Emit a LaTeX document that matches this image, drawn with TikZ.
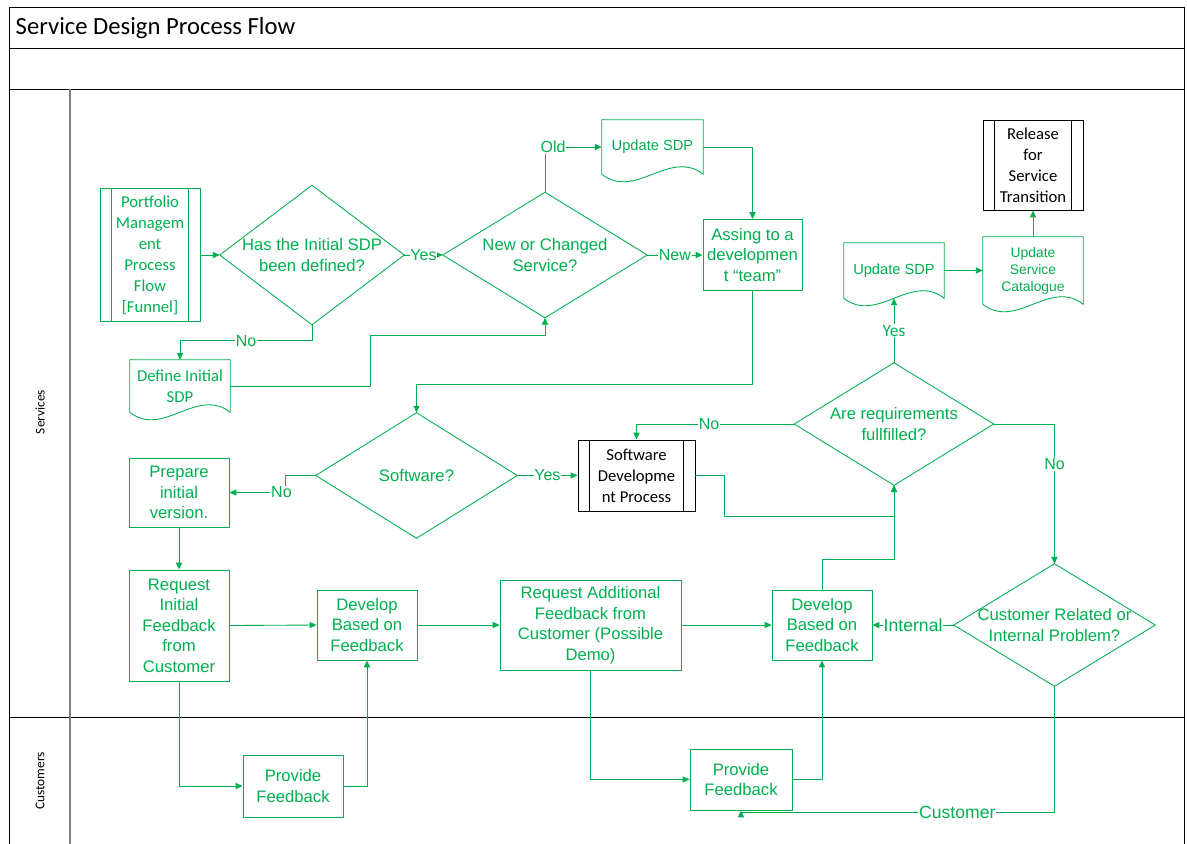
\documentclass[tikz,border=0pt]{standalone}
\usepackage{fontspec}
\setmainfont{Liberation Sans}
\newfontfamily\calfont{Carlito}
\newfontfamily\arialfont{Liberation Sans}
\usetikzlibrary{arrows.meta,calc}
\definecolor{flowgreen}{HTML}{00B050}
\definecolor{lanegray}{HTML}{808080}

\tikzset{
  sz/.style 2 args={minimum width=#1*0.75pt, minimum height=#2*0.75pt},
  gline/.style={draw=flowgreen, line width=0.65pt},
  arr/.style={gline, -{Triangle[length=5.2pt,width=4.6pt]}},
  frameline/.style={draw=black, line width=0.75pt},
  arialtext/.style={font=\arialfont\fontsize{12.5}{15.4}\selectfont},
  calibritext/.style={font=\calfont\fontsize{12.5}{15.75}\selectfont},
  box/.style={rectangle, draw=flowgreen, line width=0.65pt, text=flowgreen, align=center, inner sep=1pt, arialtext},
  decision/.style={rectangle, draw=none, text=flowgreen, align=center, inner sep=1pt, arialtext},
  docbox/.style={rectangle, draw=none, text=flowgreen, align=center, inner sep=1pt, arialtext},
  predefgreen/.style={rectangle, draw=flowgreen, line width=0.65pt, text=flowgreen, align=center, inner sep=1pt, calibritext},
  predefblack/.style={rectangle, draw=black, line width=0.7pt, text=black, align=center, inner sep=1pt, calibritext},
  lbl/.style={fill=white, text=flowgreen, inner sep=0.6pt, font=\arialfont\fontsize{12}{14}\selectfont},
  biglbl/.style={lbl, font=\arialfont\fontsize{13.2}{15}\selectfont},
  lanelabel/.style={rotate=90, text=black, font=\calfont\fontsize{10}{12}\selectfont},
}

% document symbol: flat top, wavy bottom edge
\newcommand\docoutline[1]{%
  \draw[gline] (#1.north west) -- (#1.north east) -- (#1.south east)
    .. controls ($(#1.south east)!0.333!(#1.south west)+(0,-26)$)
       and ($(#1.south east)!0.667!(#1.south west)+(0,26)$) .. (#1.south west) -- cycle;}
% decision symbol
\newcommand\diamondoutline[1]{\draw[gline] (#1.west) -- (#1.north) -- (#1.east) -- (#1.south) -- cycle;}
% predefined process: inner vertical bars
\newcommand\predefbars[2]{%
  \draw[draw=#2, line width=0.65pt] ($(#1.north west)+(12,0)$) -- ($(#1.south west)+(12,0)$);
  \draw[draw=#2, line width=0.65pt] ($(#1.north east)+(-12,0)$) -- ($(#1.south east)+(-12,0)$);}

\begin{document}
\begin{tikzpicture}[x=0.75pt, y=-0.75pt]
\useasboundingbox (0,0) rectangle (1187,843);
\fill[white] (0,0) rectangle (1187,843);

% pool frame and lanes
\draw[frameline] (9,7) -- (1184,7);
\draw[frameline] (9,7) -- (9,845);
\draw[frameline] (1184,7) -- (1184,845);
\draw[frameline] (9,48) -- (1184,48);
\draw[frameline] (9,89) -- (1184,89);
\draw[frameline] (9,717) -- (1184,717);
\draw[draw=lanegray, line width=1pt] (70,89) -- (70,845);

\node[anchor=west, text=black, font=\calfont\fontsize{18.5}{21}\selectfont] (title) at (11,28) {Service Design Process Flow};
\node[lanelabel] (lanesvc) at (40,412) {Services};
\node[lanelabel] (lanecust) at (40,781) {Customers};

% nodes
\node[predefgreen, sz={100}{133}] (portfolio) at (150,255) {Portfolio\\Managem\\ent\\Process\\Flow\\{[Funnel]}};
\node[decision, sz={184}{139}] (d1) at (312,255) {Has the Initial SDP\\been defined?};
\node[decision, sz={204}{125}] (d2) at (545,255) {New or Changed\\Service?};
\node[docbox, sz={101}{54}, font=\arialfont\fontsize{11}{13}\selectfont] (update1) at (652.5,147) {Update SDP};
\node[box, sz={99}{71}] (assign) at (752.5,255) {Assing to a\\developmen\\t “team”};
\node[docbox, sz={100}{52}, calibritext] (define) at (180,386) {Define Initial\\SDP};
\node[decision, sz={201}{125}] (d3) at (416.5,475.5) {Software?};
\node[predefblack, sz={117}{71}] (swdev) at (636.5,475.5) {Software\\Developme\\nt Process};
\node[decision, sz={199}{122}] (d4) at (894,424) {Are requirements\\fullfilled?};
\node[docbox, sz={100}{55}, font=\arialfont\fontsize{11}{13}\selectfont] (update2) at (894,270.5) {Update SDP};
\node[docbox, sz={100}{67}, font=\arialfont\fontsize{10.4}{12.75}\selectfont] (catalogue) at (1033,270.5) {Update\\Service\\Catalogue};
\node[predefblack, sz={100}{90}] (release) at (1033,165) {Release\\for\\Service\\Transition};
\node[box, sz={100}{69}] (prepare) at (179,492.5) {Prepare\\initial\\version.};
\node[box, sz={100}{111}] (reqinit) at (179,625.5) {Request\\Initial\\Feedback\\from\\Customer};
\node[box, sz={100}{70}] (dev1) at (367,625) {Develop\\Based on\\Feedback};
\node[box, sz={181}{90}] (reqadd) at (590.5,625) {Request Additional\\Feedback from\\Customer (Possible\\Demo)};
\node[box, sz={100}{70}] (dev2) at (822,625) {Develop\\Based on\\Feedback};
\node[decision, sz={201}{122}] (d5) at (1054.5,625) {Customer Related or\\Internal Problem?};
\node[box, sz={100}{62}] (prov1) at (293,786) {Provide\\Feedback};
\node[box, sz={102}{61}] (prov2) at (741,779.5) {Provide\\Feedback};

% symbol outlines
\predefbars{portfolio}{flowgreen}
\predefbars{swdev}{black}
\predefbars{release}{black}
\diamondoutline{d1}
\diamondoutline{d2}
\diamondoutline{d3}
\diamondoutline{d4}
\diamondoutline{d5}
\docoutline{update1}
\docoutline{define}
\docoutline{update2}
\docoutline{catalogue}

% waypoints
\coordinate (k1) at (370,335);
\coordinate (k2) at ($(prepare.east)+(56,0)$);
\coordinate (k3) at (724,516);

% connectors
\draw[arr] (portfolio.east) -- (d1.west);
\draw[arr] (d1.east) -- node[lbl] (lyes1) {Yes} (d2.west);
\draw[arr] (d1.south) -- ++(0,16) -| node[lbl, pos=0.25] (lno1) {No} (define.north);
\draw[arr] (define.east) -| (k1) -| (d2.south);
\draw[arr] (d2.north) |- node[lbl, pos=0.5, xshift=6pt] (lold) {Old} (update1.west);
\draw[arr] (d2.east) -- node[lbl] (lnew) {New} (assign.west);
\draw[arr] (update1.east) -| (assign.north);
\draw[arr] (assign.south) -- ++(0,93) -| (d3.north);
\draw[arr] (d3.west) -| (k2) node[lbl, xshift=-3pt] (lno2) {No} -- (prepare.east);
\draw[arr] (d3.east) -- node[lbl] (lyes2) {Yes} (swdev.west);
\draw[arr] (swdev.east) -| (k3) -| (d4.south);
\draw[arr] (d4.west) -| node[lbl, pos=0.27] (lno3) {No} (swdev.north);
\draw[arr] (d4.north) -- node[lbl, font=\calfont\fontsize{13}{15}\selectfont] (lyes3) {Yes} (update2.south);
\draw[arr] (update2.east) -- (catalogue.west);
\draw[arr] (catalogue.north) -- (release.south);
\draw[arr] (d4.east) -| node[lbl, pos=0.645] (lno4) {No} (d5.north);
\draw[arr] (d5.west) -- node[biglbl] (lint) {Internal} (dev2.east);
\draw[arr] (d5.south) -- ++(0,126) -| node[biglbl, pos=0.155] (lcust) {Customer} (prov2.south);
\draw[arr] (dev2.north) -- ++(0,-30) -| (d4.south);
\draw[arr] (prepare.south) -- (reqinit.north);
\draw[arr] (reqinit.east) -- (dev1.west);
\draw[arr] (dev1.east) -- (reqadd.west);
\draw[arr] (reqadd.east) -- (dev2.west);
\draw[arr] (reqinit.south) |- (prov1.west);
\draw[arr] (prov1.east) -| (dev1.south);
\draw[arr] (reqadd.south) |- (prov2.west);
\draw[arr] (prov2.east) -| (dev2.south);
\end{tikzpicture}
\end{document}
